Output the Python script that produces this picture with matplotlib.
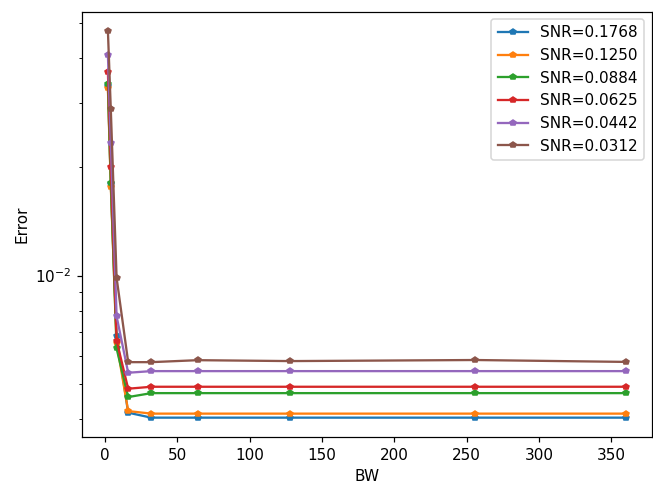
import matplotlib
matplotlib.use("Agg")
import matplotlib.pyplot as plt

bw = [2, 4, 8, 16, 32, 64, 128, 256, 360]
labels = ["SNR=0.1768", "SNR=0.1250", "SNR=0.0884", "SNR=0.0625", "SNR=0.0442", "SNR=0.0312"]

err_01768 = [0.03349, 0.01789, 0.006807, 0.004175, 0.004045, 0.004045, 0.004045, 0.004045, 0.004045]
err_01250 = [0.03296, 0.01762, 0.006509, 0.004218, 0.004150, 0.004150, 0.004150, 0.004150, 0.004150]
err_00884 = [0.03391, 0.01807, 0.006287, 0.004612, 0.004729, 0.004729, 0.004729, 0.004729, 0.004729]
err_00625 = [0.03650, 0.02000, 0.006613, 0.004864, 0.004925, 0.004925, 0.004925, 0.004925, 0.004925]
err_00442 = [0.04078, 0.02326, 0.007720, 0.005385, 0.005441, 0.005441, 0.005441, 0.005441, 0.005441]
err_00312 = [0.04753, 0.02887, 0.009870, 0.005761, 0.005761, 0.005834, 0.005800, 0.005840, 0.005770]

series = [err_01768, err_01250, err_00884, err_00625, err_00442, err_00312]

DPI = 110
fig = plt.figure(figsize=(653 / DPI, 485 / DPI), dpi=DPI)
ax = fig.add_axes([0.1256, 0.099, 0.8724, 0.877])
for lab, ys in zip(labels, series):
    ax.plot(bw, ys, marker="p", markersize=4, linewidth=1.5, label=lab)
ax.set_yscale("log")
ax.set_xlabel("BW")
ax.set_ylabel("Error")
ax.legend(loc="upper right")
fig.savefig("out.png", dpi=DPI)
